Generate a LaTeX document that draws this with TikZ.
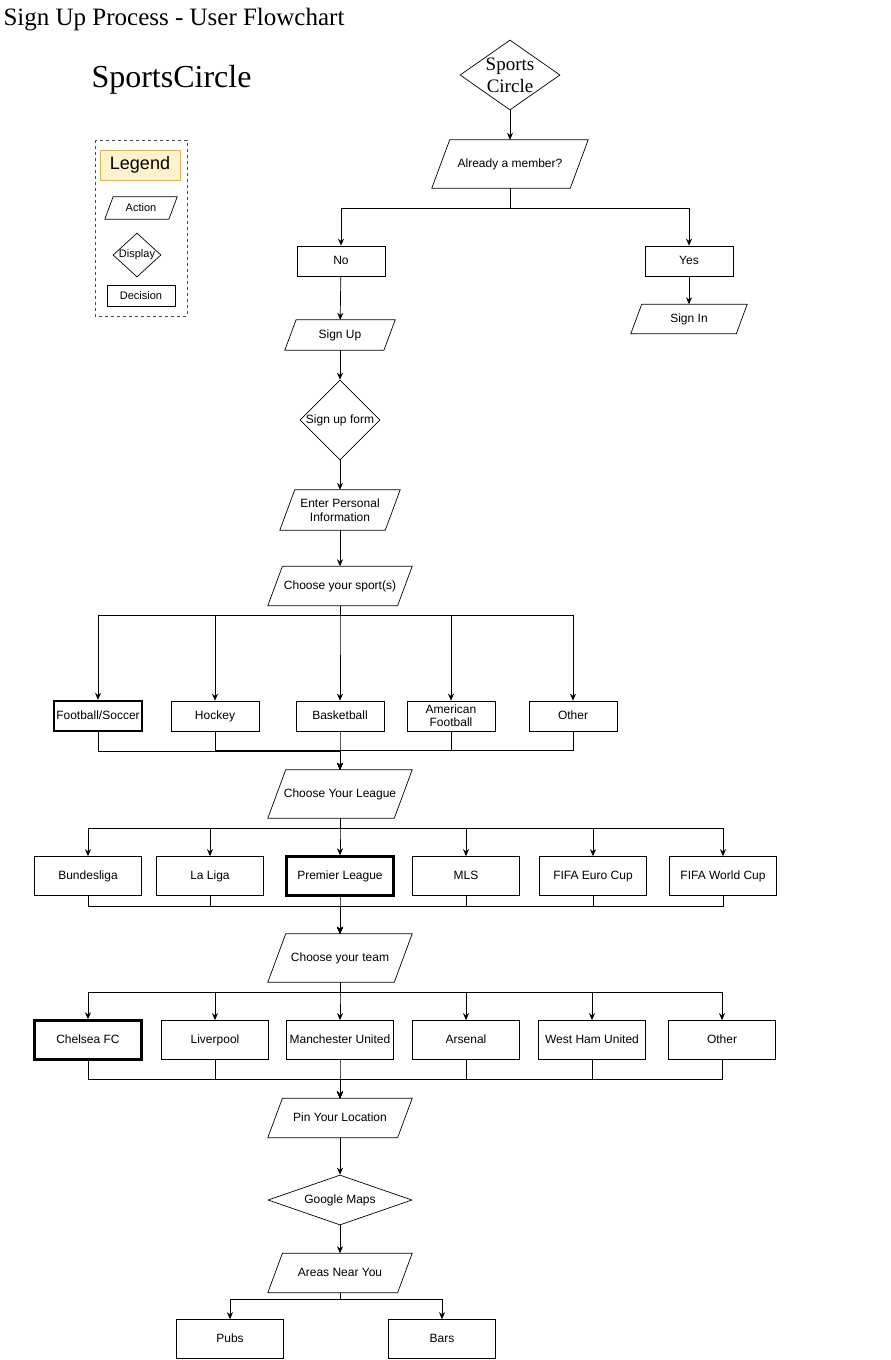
\documentclass[tikz,border=0pt]{standalone}
\usepackage{fontspec}
\setmainfont{Liberation Serif}
\newfontfamily\boxfont{Liberation Sans}
\usetikzlibrary{shapes.geometric,arrows.meta,positioning,calc}
\definecolor{legfill}{HTML}{FFF2CC}
\definecolor{legline}{HTML}{D6B656}
% slanted outline round a plain node
\newcommand\slantbox[1]{%
  \draw[line width=0.7pt] let \p1=(#1.north west), \p2=(#1.south east), \n1={0.37*(\y1-\y2)} in
    (\x1+\n1,\y1) -- (\x2,\y1) -- (\x2-\n1,\y2) -- (\x1,\y2) -- cycle;}

\begin{document}
\begin{tikzpicture}[x=1pt,y=-1pt,
    every node/.style={font=\boxfont\fontsize{12}{14}\selectfont, align=center},
    even/.style={text height=9pt, text depth=2.6pt},
    plainaction/.style={rectangle, minimum width=144pt, minimum height=39pt, inner sep=1pt},
    action/.style={plainaction, even},
    display/.style={draw, diamond, inner sep=1pt, line width=0.7pt},
    plaindecision/.style={draw, rectangle, minimum width=88pt, minimum height=30pt, inner sep=1pt, line width=0.7pt},
    decision/.style={plaindecision, even},
    wide/.style={decision, minimum width=107pt, minimum height=39pt},
    pick/.style={line width=2.4pt},
    arr/.style={-{Stealth[length=7pt,width=6pt]}, line width=0.7pt}]
  \useasboundingbox (0,0) rectangle (891,1360);

  % titles
  \node[anchor=west, font=\fontsize{25}{27}\selectfont] (title) at (0,20) {Sign Up Process - User Flowchart};
  \node[anchor=west, font=\fontsize{32}{34}\selectfont] (brand) at (88,80) {SportsCircle};

  % legend
  \draw[dashed, draw=black!70] (95,140) rectangle (187,316);
  \node[draw=legline, fill=legfill, minimum width=80pt, minimum height=30pt,
    font=\boxfont\fontsize{18}{20}\selectfont] (legend) at (140,165) {Legend};
  \node[action, minimum width=72pt, minimum height=22pt, font=\boxfont\fontsize{11}{13}\selectfont] (lact) at (141,208) {Action};
  \node[display, minimum width=48pt, minimum height=44pt] (ldisp) at (137,255) {};
  \node[font=\boxfont\fontsize{11}{13}\selectfont] at (ldisp) {Display};
  \node[decision, minimum width=68pt, minimum height=21pt, font=\boxfont\fontsize{11}{13}\selectfont] (ldec) at (141,296) {Decision};

  % top part
  \node[display, minimum width=100pt, minimum height=70pt] (start) at (510,75) {};
  \node[font=\fontsize{19}{22}\selectfont] at (start) {Sports\\Circle};
  \node[action, minimum width=156pt, minimum height=48pt] (member) at (510,164) {Already a member?};
  \node[decision] (no) at (341,261) {No};
  \node[decision] (yes) at (689,261) {Yes};
  \node[action, minimum width=116pt, minimum height=29pt] (signin) at (689,319) {Sign In};
  \node[action, minimum width=110pt, minimum height=30pt] (signup) at (340,335) {Sign Up};
  \node[display, minimum width=80pt, minimum height=80pt] (form) at (340,420) {};
  \node at (form) {Sign up form};
  \node[plainaction, minimum width=120pt, minimum height=40pt] (info) at (340,510) {Enter Personal\\Information};
  \node[action] (sport) at (340,586) {Choose your sport(s)};

  \draw[arr] (start) -- (member);
  \draw[arr] (member.south) -- ++(0,20) -| (no.north);
  \draw[arr] (member.south) -- ++(0,20) -| (yes.north);
  \draw[arr] (yes) -- (signin);
  \draw[arr] (no) -- (signup);
  \draw[arr] (signup) -- (form);
  \draw[arr] (form) -- (info);
  \draw[arr] (info) -- (sport);

  % sports
  \node[decision, pick] (soccer) at (98,716) {Football/Soccer};
  \node[decision] (hockey) at (215,716) {Hockey};
  \node[decision] (basket) at (340,716) {Basketball};
  \node[plaindecision, font=\boxfont\fontsize{12}{13}\selectfont] (amfoot) at (451,716) {American\\Football};
  \node[decision] (sother) at (573,716) {Other};
  \node[action, minimum height=48pt] (league) at (340,794) {Choose Your League};
  \foreach \s in {soccer,hockey,basket,amfoot,sother} {
    \draw[arr] (sport.south) -- ++(0,9.5) -| (\s.north);
    \draw[arr] (\s.south) -- ++(0,19) -| (league.north);
  }

  % leagues
  \node[wide] (bundes) at (88,876) {Bundesliga};
  \node[wide] (laliga) at (210,876) {La Liga};
  \node[wide, pick] (prem) at (340,876) {Premier League};
  \node[wide] (mls) at (466,876) {MLS};
  \node[wide] (euro) at (593,876) {FIFA Euro Cup};
  \node[wide] (world) at (723,876) {FIFA World Cup};
  \node[action, minimum height=48pt] (team) at (340,958) {Choose your team};
  \foreach \l in {bundes,laliga,prem,mls,euro,world} {
    \draw[arr] (league.south) -- ++(0,10) -| (\l.north);
    \draw[arr] (\l.south) -- ++(0,10) -| (team.north);
  }

  % teams
  \node[wide, pick] (chelsea) at (88,1040) {Chelsea FC};
  \node[wide] (pool) at (215,1040) {Liverpool};
  \node[wide] (manu) at (340,1040) {Manchester United};
  \node[wide] (arsenal) at (466,1040) {Arsenal};
  \node[wide] (westham) at (592,1040) {West Ham United};
  \node[wide] (tother) at (722,1040) {Other};
  \node[action] (pin) at (340,1118) {Pin Your Location};
  \foreach \t in {chelsea,pool,manu,arsenal,westham,tother} {
    \draw[arr] (team.south) -- ++(0,10) -| (\t.north);
    \draw[arr] (\t.south) -- ++(0,19) -| (pin.north);
  }

  % location
  \node[display, minimum width=144pt, minimum height=50pt] (maps) at (340,1200) {};
  \node at (maps) {Google Maps};
  \node[action] (areas) at (340,1273) {Areas Near You};
  \node[wide] (pubs) at (230,1339) {Pubs};
  \node[wide] (bars) at (442,1339) {Bars};
  \draw[arr] (pin) -- (maps);
  \draw[arr] (maps) -- (areas);
  \draw[arr] (areas.south) -- ++(0,7) -| (pubs.north);
  \draw[arr] (areas.south) -- ++(0,7) -| (bars.north);

  % action outlines
  \foreach \a in {lact,member,signin,signup,info,sport,league,team,pin,areas}
    \slantbox{\a};
\end{tikzpicture}
\end{document}
